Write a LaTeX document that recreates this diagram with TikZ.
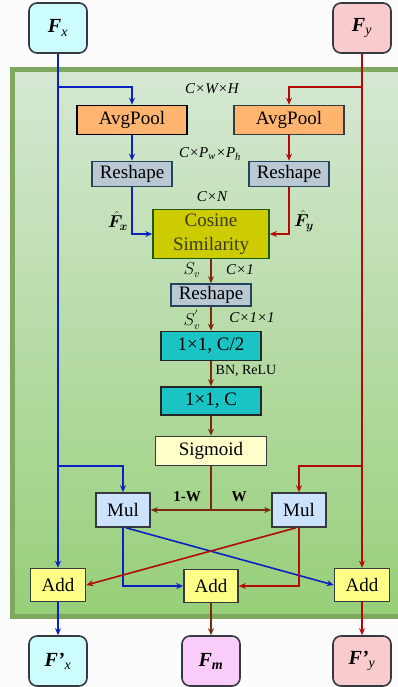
\documentclass[tikz,border=0pt]{standalone}
\usepackage{amsmath, amssymb, bm}
\usepackage{fontspec}
\setmainfont{Liberation Serif}
\usepackage{tikz}
\usetikzlibrary{arrows.meta, positioning, calc}

\definecolor{lnblue}{HTML}{0A22C4}
\definecolor{lnred}{HTML}{B40A0A}
\definecolor{lnbrown}{HTML}{7A2A0C}
\definecolor{edgegray}{HTML}{36393D}
\definecolor{panelline}{HTML}{7FA85F}
\definecolor{paneltop}{HTML}{D6E8D4}
\definecolor{panelbot}{HTML}{97CF78}
\definecolor{incyan}{HTML}{CCFCFC}
\definecolor{inred}{HTML}{F8CCCC}
\definecolor{inpink}{HTML}{FACCFA}
\definecolor{poolfill}{HTML}{FFB570}
\definecolor{reshfill}{HTML}{BAC8D3}
\definecolor{reshline}{HTML}{23445D}
\definecolor{cosfill}{HTML}{CCCC00}
\definecolor{cosline}{HTML}{1E5A0A}
\definecolor{costext}{HTML}{3A3A20}
\definecolor{convfill}{HTML}{1BC4C4}
\definecolor{sigfill}{HTML}{FFFFCC}
\definecolor{mulfill}{HTML}{CCE3FB}
\definecolor{addfill}{HTML}{FFFF88}

\begin{document}
\begin{tikzpicture}[
  x=1pt, y=-1pt,
  >={Stealth[length=7pt,width=6pt]},
  box/.style={draw=edgegray, line width=1.6pt, inner sep=0pt, align=center, font=\fontsize{19}{24}\selectfont},
  io/.style={box, rounded corners=8pt, minimum width=58pt, minimum height=50pt, font=\fontsize{20}{22}\selectfont},
  bl/.style={draw=lnblue, line width=1.6pt},
  rd/.style={draw=lnred, line width=1.6pt},
  br/.style={draw=lnbrown, line width=1.6pt},
  dim/.style={font=\fontsize{15}{15}\selectfont\itshape, inner sep=0pt},
  ]
  \useasboundingbox (0,0) rectangle (398,687);
  \fill[white!98!gray] (0,0) rectangle (398,687);
  % panel
  \shade[top color=paneltop, bottom color=panelbot] (12.5,69.5) rectangle (410,616.5);
  \draw[panelline, line width=5pt] (410,69.5) -- (12.5,69.5) -- (12.5,616.5) -- (410,616.5);

  % inputs
  \node[io, fill=incyan] (fx) at (58,28) {{\bfseries\itshape F}\textsubscript{\itshape x}};
  \node[io, fill=inred] (fy) at (362,28) {{\bfseries\itshape F}\textsubscript{\itshape y}};

  % pooling branch
  \node[box, fill=poolfill, draw=black, minimum width=110pt, minimum height=29pt] (poolx) at (132,120) {AvgPool};
  \node[box, fill=poolfill, minimum width=110pt, minimum height=29pt] (pooly) at (289,120) {AvgPool};
  \node[box, fill=reshfill, draw=reshline, minimum width=80pt, minimum height=25pt] (reshx) at (132,174) {Reshape};
  \node[box, fill=reshfill, draw=reshline, minimum width=80pt, minimum height=25pt] (reshy) at (289,174) {Reshape};
  \node[box, fill=cosfill, draw=cosline, text=costext, minimum width=116pt, minimum height=49pt] (cos) at (211,234) {Cosine\\Similarity};
  \node[box, fill=reshfill, draw=reshline, minimum width=80pt, minimum height=22pt] (resh) at (211,295) {Reshape};
  \node[box, fill=convfill, draw=black!85, minimum width=100pt, minimum height=29pt] (convA) at (211,346) {1×1, C/2};
  \node[box, fill=convfill, draw=black!85, minimum width=100pt, minimum height=28pt] (convB) at (211,401) {1×1, C};
  \node[box, fill=sigfill, minimum width=111pt, minimum height=29pt] (sig) at (211,451) {Sigmoid};

  % fusion
  \node[box, fill=mulfill, minimum width=54pt, minimum height=34pt] (mulx) at (123,510) {Mul};
  \node[box, fill=mulfill, minimum width=54pt, minimum height=34pt] (muly) at (299,510) {Mul};
  \node[box, fill=addfill, minimum width=55pt, minimum height=33pt] (addx) at (58,585) {Add};
  \node[box, fill=addfill, minimum width=54pt, minimum height=33pt] (addm) at (211,586) {Add};
  \node[box, fill=addfill, minimum width=55pt, minimum height=33pt] (addy) at (362,585) {Add};

  % outputs
  \node[io, fill=incyan] (fxo) at (58,661) {{\bfseries\itshape F’}\textsubscript{\itshape x}};
  \node[io, fill=inpink] (fm) at (211,661) {{\bfseries\itshape F}\textsubscript{\bfseries\itshape m}};
  \node[io, fill=inred] (fyo) at (362,661) {{\bfseries\itshape F’}\textsubscript{\itshape y}};

  % split points
  \coordinate (bx1) at (58,87);
  \coordinate (bx2) at (58,466);
  \coordinate (ry1) at (362,87);
  \coordinate (ry2) at (362,466);
  \coordinate (sj) at (211,510);

  % blue path
  \draw[bl,->] (fx.south) -- (addx.north);
  \draw[bl,->] (bx1) -| (poolx.north);
  \draw[bl,->] (poolx) -- (reshx);
  \draw[bl,->] (reshx.south) |- (cos.west);
  \draw[bl,->] (bx2) -| (mulx.north);
  \draw[bl,->] (mulx.south) |- (addm.west);
  \draw[bl,->] ([xshift=3pt]mulx.south) -- (addy.west);
  \draw[bl,->] (addx) -- (fxo);
  % red path
  \draw[rd,->] (fy.south) -- (addy.north);
  \draw[rd,->] (ry1) -| (pooly.north);
  \draw[rd,->] (pooly) -- (reshy);
  \draw[rd,->] (reshy.south) |- (cos.east);
  \draw[rd,->] (ry2) -| (muly.north);
  \draw[rd,->] ([xshift=-3pt]muly.south) -- (addx.east);
  \draw[rd,->] (muly.south) |- (addm.east);
  \draw[rd,->] (addy) -- (fyo);
  % weights
  \draw[br,->] (cos) -- (resh);
  \draw[br,->] (resh) -- (convA);
  \draw[br,->] (convA) -- (convB);
  \draw[br,->] (convB) -- (sig);
  \draw[br] (sig.south) -- (sj);
  \draw[br,->] (sj) -- (mulx.east);
  \draw[br,->] (sj) -- (muly.west);
  \draw[br,->] (addm) -- (fm);

  % labels
  \node[dim] (l1) at (212,89) {C×W×H};
  \node[dim] (l2) at (210,154) {C×P\textsubscript{w}×P\textsubscript{h}};
  \node[dim] (l3) at (212,197) {C×N};
  \node[inner sep=0pt, font=\fontsize{17}{17}\selectfont] (fhx) at (118,221) {$\bm{\hat{F}_x}$};
  \node[inner sep=0pt, font=\fontsize{17}{17}\selectfont] (fhy) at (304,221) {$\bm{\hat{F}_y}$};
  \node[inner sep=0pt, font=\fontsize{16}{16}\selectfont] (sv) at (192,270) {$S_v$};
  \node[dim] (l4) at (240,270) {C×1};
  \node[inner sep=0pt, font=\fontsize{16}{16}\selectfont] (svp) at (192,320) {$S_v^{'}$};
  \node[dim] (l5) at (252,318) {C×1×1};
  \node[inner sep=0pt, font=\fontsize{14}{14}\selectfont] (bn) at (246,371) {BN, ReLU};
  \node[inner sep=0pt, font=\fontsize{15}{15}\selectfont\bfseries] (w1) at (187,497) {1-W};
  \node[inner sep=0pt, font=\fontsize{15}{15}\selectfont\bfseries] (w2) at (239,497) {W};
\end{tikzpicture}
\end{document}
